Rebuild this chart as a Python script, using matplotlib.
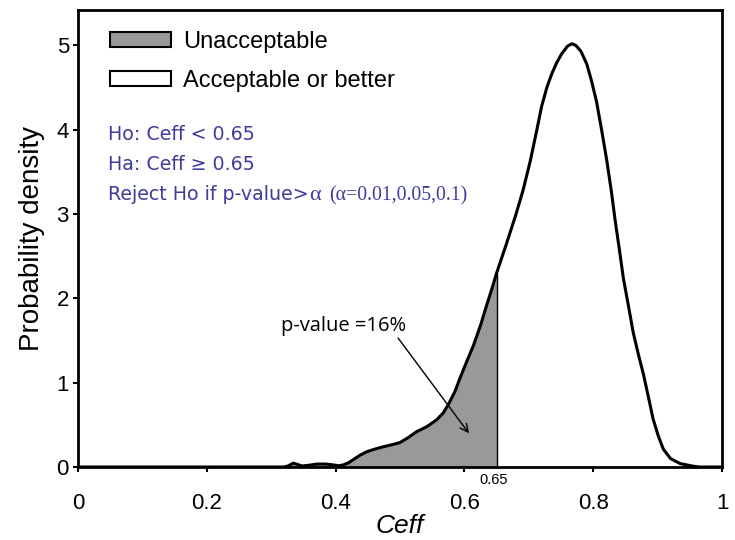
import matplotlib
matplotlib.use("Agg")
import matplotlib.pyplot as plt
import numpy as np
from matplotlib.patches import Patch

# ---- data ----
ceff = [0.00, 0.32, 0.327, 0.334, 0.341, 0.348, 0.358, 0.371, 0.385, 0.396,
        0.405, 0.412, 0.420, 0.428, 0.438, 0.448, 0.460, 0.474, 0.488, 0.500,
        0.513, 0.526, 0.542, 0.557, 0.567, 0.575, 0.585, 0.593, 0.603, 0.614,
        0.625, 0.635, 0.643, 0.650, 0.665, 0.679, 0.691, 0.702, 0.712, 0.720,
        0.728, 0.7355, 0.743, 0.751, 0.760, 0.767, 0.773, 0.781, 0.790, 0.797,
        0.805, 0.813, 0.821, 0.828, 0.834, 0.841, 0.847, 0.855, 0.862, 0.870,
        0.878, 0.886, 0.893, 0.901, 0.909, 0.920, 0.935, 0.955, 0.965, 1.0]
density = [0.0, 0.0, 0.015, 0.045, 0.03, 0.012, 0.02, 0.035, 0.035, 0.025,
           0.015, 0.025, 0.05, 0.09, 0.14, 0.18, 0.21, 0.24, 0.265, 0.29,
           0.35, 0.42, 0.48, 0.56, 0.64, 0.74, 0.89, 1.05, 1.24, 1.44,
           1.68, 1.93, 2.12, 2.30, 2.64, 2.97, 3.28, 3.62, 3.98, 4.28,
           4.50, 4.66, 4.79, 4.90, 4.99, 5.02, 5.00, 4.93, 4.78, 4.59,
           4.34, 4.00, 3.64, 3.28, 2.93, 2.56, 2.23, 1.90, 1.60, 1.34,
           1.10, 0.82, 0.57, 0.37, 0.21, 0.10, 0.04, 0.01, 0.0, 0.0]
threshold = 0.65
xticks = [0, 0.2, 0.4, 0.6, 0.8, 1]
xticklabels = ["0", "0.2", "0.4", "0.6", "0.8", "1"]
yticks = [0, 1, 2, 3, 4, 5]
legend_labels = ["Unacceptable", "Acceptable or better"]
hyp_lines = ["Ho: Ceff < 0.65", "Ha: Ceff \u2265 0.65"]
reject_text = "Reject Ho if p-value>"
alpha_text = "\u03b1"
alpha_levels = "(\u03b1=0.01,0.05,0.1)"
pvalue_text = "p-value =16%"

x = np.array(ceff)
y = np.array(density)

plt.rcParams['font.family'] = ['Liberation Sans', 'DejaVu Sans']

fig = plt.figure(figsize=(7.35, 5.40), dpi=100)
ax = fig.add_axes([78/735, 73/540, (722-78)/735, (467-10)/540])

gray = "#999999"
ax.fill_between(x, 0, y, where=x <= threshold + 1e-9, color=gray, linewidth=0, zorder=1)
ax.fill_between(x, 0, y, where=x >= threshold - 1e-9, color="white", linewidth=0, zorder=1)
yth = y[np.argmin(np.abs(x - threshold))]
ax.vlines(threshold, 0, yth, color="black", linewidth=1.0, zorder=2)
ax.plot(x, y, color="black", linewidth=2.2, zorder=3, solid_joinstyle="round")

ax.set_xlim(0, 1)
ax.set_ylim(0, 5.42)
ax.set_xticks(xticks)
ax.set_xticklabels(xticklabels)
ax.set_yticks(yticks)
ax.tick_params(axis='both', direction='out', length=3.5, width=1.5, labelsize=16)
ax.tick_params(axis='x', pad=15)
ax.tick_params(axis='y', pad=3)
for s in ax.spines.values():
    s.set_linewidth(2.0)

ax.set_xlabel("Ceff", fontsize=19, style='italic', labelpad=0.5)
ax.set_ylabel("Probability density", fontsize=20, labelpad=8)

handles = [Patch(facecolor=gray, edgecolor="black", linewidth=1.5),
           Patch(facecolor="white", edgecolor="black", linewidth=1.5)]
ax.legend(handles, legend_labels, loc="upper left", bbox_to_anchor=(0.035, 0.975),
          frameon=False, fontsize=17, handlelength=2.6, handleheight=0.62,
          handletextpad=0.5, labelspacing=0.72, borderaxespad=0)

blue = "#3c3c9c"
hfs = 13.7
ax.text(108/735, 1 - 135/540, hyp_lines[0], transform=fig.transFigure, fontsize=hfs,
        color=blue, family="DejaVu Sans", va="center", ha="left")
ax.text(108/735, 1 - 164/540, hyp_lines[1], transform=fig.transFigure, fontsize=hfs,
        color=blue, family="DejaVu Sans", va="center", ha="left")
t1 = ax.text(108/735, 1 - 195/540, reject_text, transform=fig.transFigure, fontsize=hfs,
             color=blue, family="DejaVu Sans", va="center", ha="left")
fig.canvas.draw()
bb = t1.get_window_extent()
t2 = fig.text((bb.x1 + 1) / fig.bbox.width, 1 - 195/540, alpha_text, fontsize=16,
              color=blue, family="Liberation Serif", va="center", ha="left")
fig.canvas.draw()
bb2 = t2.get_window_extent()
fig.text((bb2.x1 + 8) / fig.bbox.width, 1 - 196/540, alpha_levels, fontsize=14.2,
         color=blue, family="Liberation Serif", va="center", ha="left")

ax.text(0.412, 1.67, pvalue_text, fontsize=14.5, family="Open Sans",
        ha="center", va="center", zorder=5)
ax.annotate("", xy=(0.607, 0.40), xytext=(0.497, 1.53),
            arrowprops=dict(arrowstyle="->", color="black", lw=1.0,
                            shrinkA=0, shrinkB=0, mutation_scale=14), zorder=5)
ax.annotate("0.65", xy=(threshold, 0), xytext=(-3, -13), textcoords="offset pixels",
            fontsize=10.5, ha="center", va="center", annotation_clip=False)

fig.savefig("out.png", dpi=100)
